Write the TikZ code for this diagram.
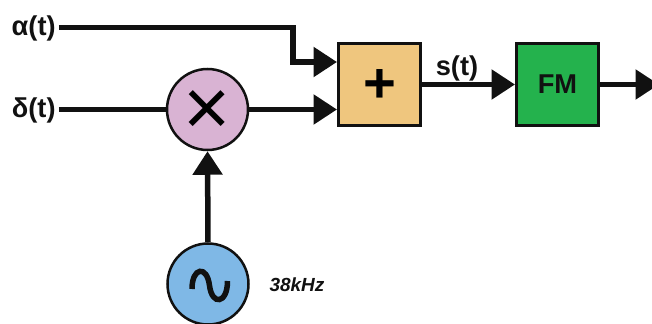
\documentclass[tikz,border=0pt]{standalone}
\usepackage{fontspec}
\setmainfont{Liberation Sans}
\usetikzlibrary{arrows.meta}
\usetikzlibrary{calc}
\definecolor{inkblack}{HTML}{111111}
\definecolor{mixpink}{HTML}{D9B3D3}
\definecolor{sumorange}{HTML}{EFC67E}
\definecolor{fmgreen}{HTML}{24B24D}
\definecolor{oscblue}{HTML}{7FB8E6}
\tikzset{
    wire/.style={draw=inkblack,line width=0.11cm},
    arrowwire/.style={wire,-{Triangle[length=0.47cm,width=0.58cm]}},
    blockbox/.style={draw=inkblack,line width=0.06cm,minimum size=1.64cm,inner sep=0pt},
    roundbox/.style={circle,draw=inkblack,line width=0.05cm,minimum size=1.62cm,inner sep=0pt},
    siglabel/.style={font=\fontsize{15.5}{18}\selectfont\bfseries,text=inkblack,inner sep=0pt},
}
\begin{document}
\begin{tikzpicture}
    \clip (0,0) rectangle (13.04,6.46);

    \node[blockbox,fill=sumorange,font=\fontsize{32}{32}\selectfont\bfseries] (sum) at (7.59,4.77) {\raisebox{-10.5pt}[0pt][0pt]{+}};
    \node[blockbox,fill=fmgreen,siglabel] (fm) at (11.15,4.77) {FM};
    \node[roundbox,fill=mixpink,font=\fontsize{46}{46}\selectfont] (mix) at (4.15,4.27) {\raisebox{-15pt}[0pt][0pt]{×}};
    \node[roundbox,fill=oscblue] (osc) at (4.16,0.78) {};

    \node[siglabel,anchor=east] (alphalabel) at (1.12,5.91) {\raisebox{-4.5pt}[0pt][0pt]{α(t)}};
    \node[siglabel,anchor=east] (deltalabel) at (1.12,4.27) {\raisebox{-4.5pt}[0pt][0pt]{δ(t)}};
    \node[siglabel] (slabel) at (9.14,5.1) {s(t)};
    \node[font=\fontsize{10.8}{13}\selectfont\bfseries\itshape,text=inkblack,inner sep=0pt] (freqlabel) at (5.94,0.76) {38kHz};

    \coordinate (sumtop) at ($(sum.west)+(0,0.45)$);
    \coordinate (outend) at (13.18,4.77);

    \draw[arrowwire] (alphalabel.east) ++(0.06,0) -- ++(4.68,0) |- (sumtop);
    \draw[wire] (deltalabel.east) ++(0.06,0) -- (mix.west);
    \draw[arrowwire] (mix.east) -- (sum.west |- mix.east);
    \draw[arrowwire] (osc.north) -- (mix.south);
    \draw[arrowwire] (sum.east) -- (fm.west);
    \draw[arrowwire] (fm.east) -- (outend);

    % sine inside the oscillator
    \draw[inkblack,line width=0.11cm] (3.84,0.68) .. controls (3.84,1.12) and (4.14,1.16) .. (4.19,0.75) .. controls (4.24,0.34) and (4.55,0.38) .. (4.55,0.84);
\end{tikzpicture}
\end{document}
